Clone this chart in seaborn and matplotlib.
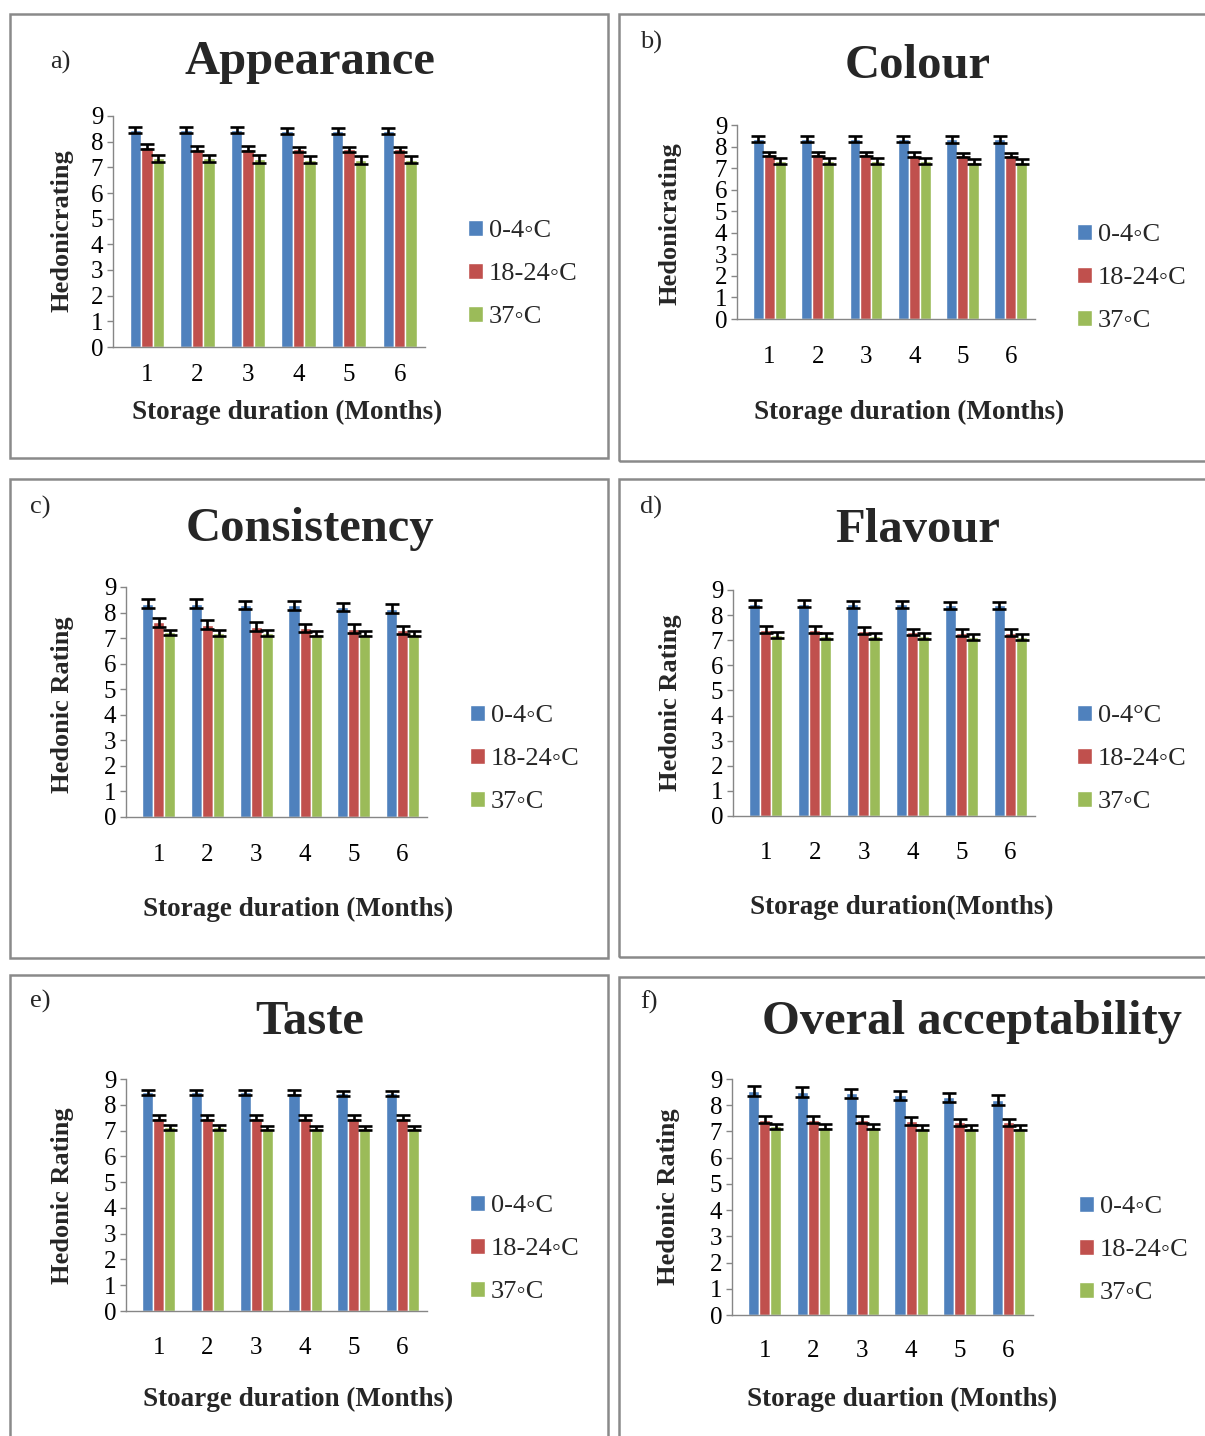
import matplotlib
matplotlib.use("Agg")
import matplotlib.pyplot as plt
from matplotlib.patches import Rectangle
import pandas as pd
import seaborn as sns

# ---- data: mean hedonic scores (9-point scale) with error bars ----
months = [1, 2, 3, 4, 5, 6]
series_keys = ["cold", "ambient", "warm"]
legend_bullet = ["0-4\u25e6C", "18-24\u25e6C", "37\u25e6C"]
legend_degree = ["0-4\u00b0C", "18-24\u25e6C", "37\u25e6C"]

appearance_cold = [8.45, 8.45, 8.45, 8.40, 8.40, 8.40]
appearance_ambient = [7.80, 7.72, 7.72, 7.70, 7.70, 7.70]
appearance_warm = [7.35, 7.35, 7.33, 7.30, 7.28, 7.30]
appearance_err = [0.12, 0.10, 0.15]

colour_cold = [8.35, 8.35, 8.35, 8.35, 8.33, 8.33]
colour_ambient = [7.65, 7.65, 7.65, 7.63, 7.62, 7.62]
colour_warm = [7.33, 7.33, 7.33, 7.32, 7.30, 7.30]
colour_err = [0.15, 0.10, 0.13]

consistency_cold = [8.35, 8.35, 8.30, 8.28, 8.22, 8.15]
consistency_ambient = [7.62, 7.52, 7.45, 7.40, 7.37, 7.32]
consistency_warm = [7.22, 7.20, 7.20, 7.18, 7.18, 7.18]
consistency_err = [0.17, 0.17, 0.10]

flavour_cold = [8.45, 8.45, 8.43, 8.43, 8.40, 8.40]
flavour_ambient = [7.42, 7.42, 7.38, 7.33, 7.30, 7.30]
flavour_warm = [7.20, 7.17, 7.17, 7.15, 7.12, 7.12]
flavour_err = [0.14, 0.13, 0.12]

taste_cold = [8.48, 8.48, 8.48, 8.46, 8.45, 8.45]
taste_ambient = [7.50, 7.50, 7.50, 7.50, 7.50, 7.50]
taste_warm = [7.12, 7.12, 7.10, 7.10, 7.10, 7.10]
taste_err = [0.10, 0.09, 0.09]

overall_cold = [8.55, 8.50, 8.45, 8.38, 8.30, 8.20]
overall_ambient = [7.45, 7.45, 7.45, 7.40, 7.35, 7.35]
overall_warm = [7.20, 7.18, 7.18, 7.15, 7.15, 7.15]
overall_err = [0.18, 0.14, 0.10]

yticks = list(range(10))
bar_colors = ["#4F81BD", "#C0504D", "#9BBB59"]

# ---- figure layout (pixel coordinates on a 1205 x 1436 canvas) ----
W, H = 1205, 1436
sns.set_style("white")
plt.rcParams["font.family"] = ["Liberation Serif", "DejaVu Sans"]

fig = plt.figure(figsize=(W / 100, H / 100), dpi=100)
fig.patch.set_facecolor("white")

panels = [
    dict(letter="a)", title="Appearance", values=(appearance_cold, appearance_ambient, appearance_warm),
         err=appearance_err, labels=legend_bullet, ylabel="Hedonicrating",
         xlabel="Storage duration (Months)",
         box=(113, 425, 347, 116), xpad=12, frame=(10, 14, 608, 458),
         title_xy=(310, 62), letter_xy=(50, 62), ylabel_xy=(62, 231), xlabel_xy=(287, 412),
         legend_xy=(468, 274)),
    dict(letter="b)", title="Colour", values=(colour_cold, colour_ambient, colour_warm),
         err=colour_err, labels=legend_bullet, ylabel="Hedonicrating",
         xlabel="Storage duration (Months)",
         box=(737, 1035, 319, 125), xpad=19.5, frame=(619, 14, 1230, 461),
         title_xy=(918, 66), letter_xy=(640, 42), ylabel_xy=(670, 224), xlabel_xy=(909, 412),
         legend_xy=(1077, 278)),
    dict(letter="c)", title="Consistency", values=(consistency_cold, consistency_ambient, consistency_warm),
         err=consistency_err, labels=legend_bullet, ylabel="Hedonic Rating",
         xlabel="Storage duration (Months)",
         box=(126, 427, 817, 587), xpad=19.5, frame=(10, 479, 608, 958),
         title_xy=(310, 529), letter_xy=(30, 507), ylabel_xy=(62, 705), xlabel_xy=(298, 909),
         legend_xy=(470, 759)),
    dict(letter="d)", title="Flavour", values=(flavour_cold, flavour_ambient, flavour_warm),
         err=flavour_err, labels=legend_degree, ylabel="Hedonic Rating",
         xlabel="Storage duration(Months)",
         box=(733, 1035, 816, 590), xpad=19, frame=(619, 479, 1230, 957),
         title_xy=(918, 530), letter_xy=(640, 507), ylabel_xy=(670, 703), xlabel_xy=(902, 907),
         legend_xy=(1077, 759)),
    dict(letter="e)", title="Taste", values=(taste_cold, taste_ambient, taste_warm),
         err=taste_err, labels=legend_bullet, ylabel="Hedonic Rating",
         xlabel="Stoarge duration (Months)",
         box=(126, 427, 1311, 1079), xpad=19, frame=(10, 975, 608, 1460),
         title_xy=(310, 1022), letter_xy=(30, 1001), ylabel_xy=(62, 1196), xlabel_xy=(298, 1399),
         legend_xy=(470, 1249)),
    dict(letter="f)", title="Overal acceptability", values=(overall_cold, overall_ambient, overall_warm),
         err=overall_err, labels=legend_bullet, ylabel="Hedonic Rating",
         xlabel="Storage duartion (Months)",
         box=(732, 1033, 1315, 1079), xpad=18, frame=(619, 977, 1230, 1460),
         title_xy=(972, 1022), letter_xy=(640, 1002), ylabel_xy=(668, 1197), xlabel_xy=(902, 1399),
         legend_xy=(1079, 1250)),
]

axis_grey = "#868686"


def fx(x):
    return x / W


def fy(y):
    return 1 - y / H


for p in panels:
    # chart-area border
    x0, y0, x1, y1 = p["frame"]
    fig.add_artist(Rectangle((fx(x0), fy(y1)), fx(x1 - x0), (y1 - y0) / H,
                             transform=fig.transFigure, fill=False,
                             edgecolor="#8a8a8a", linewidth=1.8, zorder=0))

    # long-format table for seaborn
    rows = []
    for key, lab, vals in zip(series_keys, p["labels"], p["values"]):
        for m, v in zip(months, vals):
            rows.append({"month": m, "temp": lab, "rating": v})
    df = pd.DataFrame(rows)

    L, R, B, T = p["box"]
    ax = fig.add_axes([fx(L), fy(B), (R - L) / W, (B - T) / H])
    sns.barplot(data=df, x="month", y="rating", hue="temp", hue_order=p["labels"],
                palette=bar_colors, width=0.68, saturation=1, errorbar=None,
                ax=ax, legend=True)

    # error bars on each bar
    for cont, err in zip(ax.containers, p["err"]):
        xs = [b.get_x() + b.get_width() / 2 for b in cont]
        hs = [b.get_height() for b in cont]
        ax.errorbar(xs, hs, yerr=err, fmt="none", ecolor="black",
                    elinewidth=1.9, capsize=5.2, capthick=1.9, zorder=5)

    ax.set_xlim(-0.67, 5.5)
    ax.set_ylim(0, 9)
    ax.set_yticks(yticks)
    ax.set_yticklabels([str(t) for t in yticks])
    ax.set_xticks(range(len(months)))
    ax.set_xticklabels([str(m) for m in months])
    ax.set_xlabel("")
    ax.set_ylabel("")
    for s in ("top", "right"):
        ax.spines[s].set_visible(False)
    for s in ("left", "bottom"):
        ax.spines[s].set_color(axis_grey)
        ax.spines[s].set_linewidth(1.0)
    ax.tick_params(axis="y", which="major", left=True, length=4, width=1,
                   color=axis_grey, pad=3, labelsize=18, labelcolor="black")
    ax.tick_params(axis="x", which="major", bottom=False, length=0,
                   pad=p["xpad"], labelsize=18, labelcolor="black")
    ax.set_facecolor("white")

    sns.move_legend(ax, loc="center left", bbox_to_anchor=(fx(p["legend_xy"][0]), fy(p["legend_xy"][1])),
                    bbox_transform=fig.transFigure, frameon=False, title=None,
                    fontsize=19, handlelength=0.55, handleheight=0.55,
                    handletextpad=0.25, labelspacing=0.78, borderpad=0, borderaxespad=0)

    fig.text(fx(p["title_xy"][0]), fy(p["title_xy"][1]), p["title"], ha="center", va="center",
             fontsize=35, fontweight="bold")
    fig.text(fx(p["letter_xy"][0]), fy(p["letter_xy"][1]), p["letter"], ha="left", va="center",
             fontsize=19)
    fig.text(fx(p["ylabel_xy"][0]), fy(p["ylabel_xy"][1]), p["ylabel"], ha="center", va="center",
             rotation=90, fontsize=19, fontweight="bold")
    fig.text(fx(p["xlabel_xy"][0]), fy(p["xlabel_xy"][1]), p["xlabel"], ha="center", va="center",
             fontsize=19.5, fontweight="bold")

fig.savefig("out.png", dpi=100, facecolor="white")
